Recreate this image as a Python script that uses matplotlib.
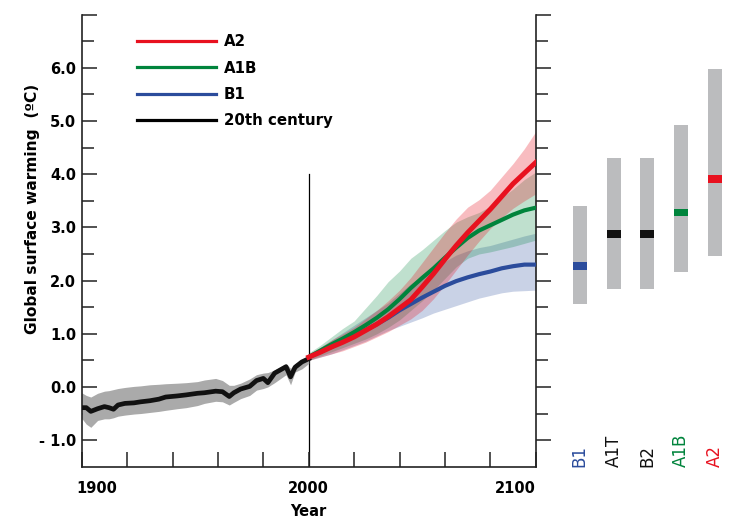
import matplotlib
matplotlib.use('Agg')
import matplotlib.pyplot as plt
from matplotlib.lines import Line2D, TICKRIGHT
from matplotlib.transforms import ScaledTranslation

plt.rcParams['font.family'] = ['DejaVu Sans']

hist_years = [1900, 1902, 1904, 1907, 1910, 1912, 1914, 1916, 1919, 1923, 1926, 1930,
              1934, 1937, 1942, 1946, 1951, 1954, 1959, 1962, 1965, 1967, 1970, 1974,
              1977, 1980, 1982, 1985, 1990, 1992, 1994, 1997, 2000]
hist_mean = [-0.39, -0.39, -0.46, -0.41, -0.37, -0.39, -0.42, -0.34, -0.31, -0.30, -0.28, -0.26,
             -0.23, -0.19, -0.17, -0.15, -0.12, -0.11, -0.08, -0.09, -0.18, -0.11, -0.04, 0.01,
             0.12, 0.16, 0.08, 0.26, 0.38, 0.19, 0.37, 0.47, 0.53]
hist_hi = [-0.11, -0.16, -0.19, -0.12, -0.08, -0.07, -0.05, -0.03, -0.01, 0.01, 0.02, 0.04,
           0.05, 0.06, 0.07, 0.08, 0.10, 0.13, 0.16, 0.12, 0.03, 0.03, 0.07, 0.15,
           0.23, 0.26, 0.27, 0.32, 0.44, 0.35, 0.44, 0.50, 0.57]
hist_lo = [-0.59, -0.70, -0.76, -0.63, -0.60, -0.60, -0.58, -0.55, -0.53, -0.51, -0.50, -0.48,
           -0.46, -0.44, -0.41, -0.39, -0.35, -0.31, -0.27, -0.28, -0.34, -0.29, -0.22, -0.16,
           -0.06, -0.03, 0.00, 0.08, 0.23, 0.04, 0.28, 0.34, 0.44]

# 21st century projections
proj_years = [2000, 2005, 2010, 2015, 2020, 2025, 2030, 2035, 2040, 2045, 2050,
              2055, 2060, 2065, 2070, 2075, 2080, 2085, 2090, 2095, 2100]
a2_mean = [0.56, 0.65, 0.75, 0.84, 0.94, 1.06, 1.18, 1.32, 1.48, 1.64, 1.88,
           2.13, 2.40, 2.66, 2.90, 3.12, 3.34, 3.58, 3.82, 4.02, 4.22]
a2_hi = [0.62, 0.74, 0.88, 1.00, 1.12, 1.28, 1.44, 1.62, 1.82, 2.06, 2.34,
         2.62, 2.90, 3.16, 3.38, 3.52, 3.70, 3.95, 4.20, 4.48, 4.80]
a2_lo = [0.50, 0.56, 0.62, 0.68, 0.76, 0.84, 0.94, 1.04, 1.16, 1.28, 1.44,
         1.66, 1.92, 2.20, 2.48, 2.74, 2.98, 3.18, 3.36, 3.50, 3.63]
a1b_mean = [0.56, 0.68, 0.80, 0.91, 1.03, 1.16, 1.30, 1.46, 1.65, 1.86, 2.05,
            2.23, 2.43, 2.62, 2.80, 2.94, 3.04, 3.14, 3.24, 3.32, 3.37]
a1b_hi = [0.64, 0.78, 0.94, 1.10, 1.24, 1.48, 1.72, 1.98, 2.18, 2.42, 2.58,
          2.76, 2.94, 3.10, 3.20, 3.28, 3.40, 3.56, 3.72, 3.90, 4.04]
a1b_lo = [0.50, 0.58, 0.66, 0.74, 0.82, 0.90, 1.00, 1.12, 1.26, 1.44, 1.62,
          1.82, 2.04, 2.26, 2.42, 2.50, 2.54, 2.59, 2.64, 2.70, 2.76]
b1_mean = [0.56, 0.66, 0.75, 0.86, 0.97, 1.07, 1.18, 1.30, 1.44, 1.56, 1.68,
           1.79, 1.90, 1.99, 2.06, 2.12, 2.17, 2.23, 2.27, 2.30, 2.30]
b1_hi = [0.62, 0.74, 0.88, 1.02, 1.16, 1.30, 1.44, 1.58, 1.76, 1.94, 2.08,
         2.22, 2.36, 2.48, 2.56, 2.62, 2.66, 2.72, 2.78, 2.84, 2.89]
b1_lo = [0.50, 0.56, 0.62, 0.70, 0.78, 0.86, 0.96, 1.06, 1.14, 1.22, 1.30,
         1.39, 1.46, 1.53, 1.60, 1.67, 1.72, 1.77, 1.80, 1.81, 1.82]

# likely ranges and best estimates for 2090-2099
scenarios = ['B1', 'A1T', 'B2', 'A1B', 'A2']
range_lo = [1.55, 1.84, 1.84, 2.16, 2.46]
range_hi = [3.40, 4.31, 4.31, 4.93, 5.97]
best = [2.28, 2.88, 2.88, 3.28, 3.91]

RED = '#e8111f'
GREEN = '#00843c'
BLUE = '#2b4c9c'
sc_colors = [BLUE, '#111111', '#111111', GREEN, RED]

fig = plt.figure(figsize=(7.39, 5.19), dpi=100)
ax = fig.add_axes([0.1106, 0.1008, 0.6143, 0.8709])

ax.axvline(2000, ymin=0, ymax=5.5 / 8.5, color='black', lw=0.9, zorder=1)

ax.fill_between(hist_years, hist_lo, hist_hi, color='#aaaaaa', lw=0, zorder=2)
ax.fill_between(proj_years, b1_lo, b1_hi, color=BLUE, alpha=0.25, lw=0, zorder=2)
ax.fill_between(proj_years, a1b_lo, a1b_hi, color=GREEN, alpha=0.25, lw=0, zorder=2)
ax.fill_between(proj_years, a2_lo, a2_hi, color=RED, alpha=0.28, lw=0, zorder=2)

ax.plot(hist_years, hist_mean, color='#111111', lw=3.4, zorder=3)
ax.plot(proj_years, b1_mean, color=BLUE, lw=3, zorder=3)
ax.plot(proj_years, a1b_mean, color=GREEN, lw=3, zorder=3)
ax.plot(proj_years, a2_mean, color=RED, lw=3.6, zorder=3)

ax.set_xlim(1900, 2100)
ax.set_ylim(-1.5, 7.0)
ax.spines['top'].set_visible(False)
for s in ['left', 'bottom', 'right']:
    ax.spines[s].set_linewidth(1.2)
    ax.spines[s].set_color('#222222')

xt = list(range(1900, 2101, 20))
ax.set_xticks(xt)
ax.set_xticklabels([str(t) if t in (1900, 2000, 2100) else '' for t in xt],
                   fontsize=10.5, fontweight='bold')
ax.tick_params(axis='x', direction='in', length=11, width=1.1, pad=10, color='#222222')

ax.set_yticks([-1.0, 0.0, 1.0, 2.0, 3.0, 4.0, 5.0, 6.0, 7.0])
ax.set_yticklabels(['- 1.0', '0.0', '1.0', '2.0', '3.0', '4.0', '5.0', '6.0', ''],
                   fontsize=10.5, fontweight='bold')
ax.set_yticks([-0.5, 0.5, 1.5, 2.5, 3.5, 4.5, 5.5, 6.5], minor=True)
ax.tick_params(axis='y', which='major', direction='in', length=11, width=1.1, pad=4,
               right=True, color='#222222')
ax.tick_params(axis='y', which='minor', direction='in', length=8.5, width=1.1,
               right=True, color='#222222')
# right side ticks point outwards
for t in ax.yaxis.get_major_ticks() + ax.yaxis.get_minor_ticks():
    t.tick2line.set_marker(TICKRIGHT)

# end labels sit inside the axis ends
lbls = ax.get_xticklabels()
lbls[0].set_ha('left')
lbls[0].set_transform(lbls[0].get_transform() + ScaledTranslation(-4 / 72, 0, fig.dpi_scale_trans))
lbls[-1].set_ha('right')

ax.set_xlabel('Year', fontsize=10.5, fontweight='bold', labelpad=6)
ax.set_ylabel('Global surface warming  (ºC)', fontsize=11.1, fontweight='bold')
ax.yaxis.set_label_coords(-0.093, 0.57)

handles = [Line2D([], [], color=RED, lw=2.3),
           Line2D([], [], color=GREEN, lw=2.3),
           Line2D([], [], color=BLUE, lw=2.3),
           Line2D([], [], color='black', lw=2.3)]
ax.legend(handles, ['A2', 'A1B', 'B1', '20th century'], loc='upper left',
          bbox_to_anchor=(0.121, 0.957), frameon=False, borderpad=0, borderaxespad=0,
          handlelength=5.27, handletextpad=0.55, labelspacing=0.76,
          prop={'weight': 'bold', 'size': 10.8})

# side panel with likely ranges
ax2 = fig.add_axes([562.9 / 739, 0.1008, 169.0 / 739, 0.8709])
ax2.set_xlim(-0.5, 4.5)
ax2.set_ylim(-1.5, 7.0)
ax2.axis('off')
xs = list(range(len(scenarios)))
ax2.bar(xs, [h - l for h, l in zip(range_hi, range_lo)], bottom=range_lo,
        width=0.41, color='#bbbcbe', lw=0)
ax2.bar(xs, [0.15] * len(xs), bottom=[b - 0.075 for b in best],
        width=0.41, color=sc_colors, lw=0)
for x, name, c in zip(xs, scenarios, sc_colors):
    ax2.text(x, -1.5, name, rotation=90, ha='center', va='bottom', fontsize=12, color=c)

fig.savefig('out.png', dpi=100)
